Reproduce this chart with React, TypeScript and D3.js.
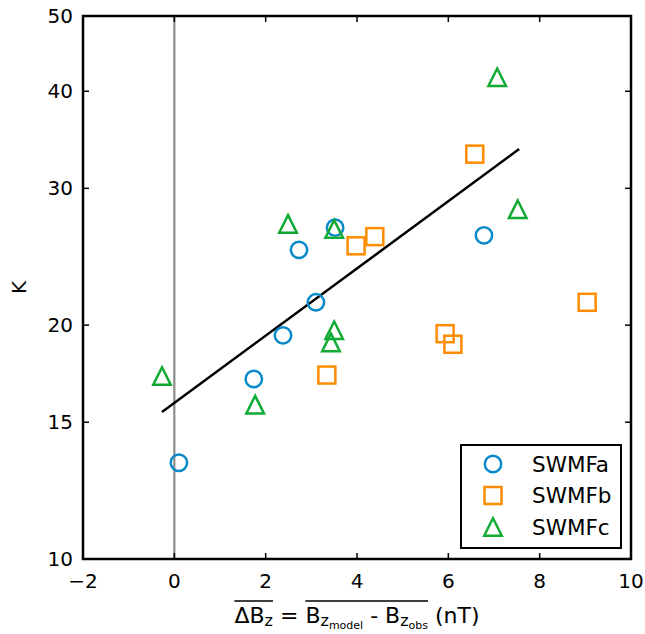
import React, { useLayoutEffect, useRef, useState } from "react";
import * as d3 from "d3";

const swmfaX = [0.1, 1.74, 2.38, 2.73, 3.1, 3.52, 6.78];
const swmfaY = [13.3, 17.05, 19.4, 25.0, 21.4, 26.7, 26.1];
const swmfbX = [3.34, 3.98, 4.39, 6.58, 5.93, 6.1, 9.04];
const swmfbY = [17.25, 25.3, 26.0, 33.2, 19.5, 18.9, 21.4];
const swmfcX = [-0.27, 1.77, 2.49, 3.5, 3.5, 3.43, 7.52, 7.07];
const swmfcY = [17.2, 15.8, 27.0, 26.6, 19.7, 19.0, 28.2, 41.7];
const fitX = [-0.27, 7.55];
const fitY = [15.46, 33.7];
const xTicks = [-2, 0, 2, 4, 6, 8, 10];
const yTicks = [10, 15, 20, 30, 40, 50];
const seriesNames = ["SWMFa", "SWMFb", "SWMFc"];
const colors = ["#0a8ac8", "#ff8c00", "#11aa33"];

const W = 645, H = 634;
const L = 83, R = 631, T = 16, B = 559;
const FONT = "DejaVu Sans, sans-serif";

function Marker({ kind, x, y, color }: { kind: number; x: number; y: number; color: string }) {
  const sw = 2.5;
  if (kind === 0) return <circle cx={x} cy={y} r={8.2} fill="none" stroke={color} strokeWidth={sw} />;
  if (kind === 1) return <rect x={x - 8.5} y={y - 8.5} width={17} height={17} fill="none" stroke={color} strokeWidth={sw} />;
  const s = 8.8;
  return <path d={`M${x},${y - s}L${x - s},${y + s}L${x + s},${y + s}Z`} fill="none" stroke={color} strokeWidth={sw} strokeLinejoin="miter" />;
}

export default function App() {
  const x = d3.scaleLinear().domain([-2, 10]).range([L, R]);
  const y = d3.scaleLog().domain([10, 50]).range([B, T]);
  const line = d3.line<number>().x((d, i) => x(fitX[i])).y((d, i) => y(fitY[i]));
  const labelRef = useRef<SVGTextElement>(null);
  const [ol, setOl] = useState<number[][]>([]);

  useLayoutEffect(() => {
    const t = labelRef.current;
    if (!t) return;
    try {
      const e0 = t.getExtentOfChar(0);
      const e2 = t.getExtentOfChar(2);
      const e6 = t.getExtentOfChar(6);
      const e20 = t.getExtentOfChar(20);
      setOl([
        [e0.x, e2.x + e2.width],
        [e6.x, e20.x + e20.width],
      ]);
    } catch (err) {}
  }, []);

  const series = [
    { xs: swmfaX, ys: swmfaY },
    { xs: swmfbX, ys: swmfbY },
    { xs: swmfcX, ys: swmfcY },
  ];

  const tickLen = 6;
  const overY = 601;

  return (
    <svg width={W} height={H} style={{ position: "absolute", left: 0, top: 0, background: "#fff" }} fontFamily={FONT}>
      <rect x={0} y={0} width={W} height={H} fill="#fff" />
      <line x1={x(0)} x2={x(0)} y1={B} y2={T} stroke="#8c8c8c" strokeWidth={2.2} />
      <path d={line([0, 1]) || ""} fill="none" stroke="#000" strokeWidth={2.5} />
      {series.map((s, si) =>
        s.xs.map((xv, i) => (
          <Marker key={`${si}-${i}`} kind={si} x={x(xv)} y={y(s.ys[i])} color={colors[si]} />
        ))
      )}
      {xTicks.slice(1, -1).map((t) => (
        <g key={`xt${t}`}>
          <line x1={x(t)} x2={x(t)} y1={B} y2={B - tickLen} stroke="#000" strokeWidth={1.5} />
          <line x1={x(t)} x2={x(t)} y1={T} y2={T + tickLen} stroke="#000" strokeWidth={1.5} />
        </g>
      ))}
      {yTicks.slice(1, -1).map((t) => (
        <g key={`yt${t}`}>
          <line x1={L} x2={L + tickLen} y1={y(t)} y2={y(t)} stroke="#000" strokeWidth={1.5} />
          <line x1={R} x2={R - tickLen} y1={y(t)} y2={y(t)} stroke="#000" strokeWidth={1.5} />
        </g>
      ))}
      <rect x={L} y={T} width={R - L} height={B - T} fill="none" stroke="#000" strokeWidth={2.5} />
      {xTicks.map((t) => (
        <text key={`xl${t}`} x={x(t)} y={B + 29} textAnchor="middle" fontSize={20}>
          {t < 0 ? `\u2212${Math.abs(t)}` : t}
        </text>
      ))}
      {yTicks.map((t) => (
        <text key={`yl${t}`} x={L - 10} y={y(t) + 7} textAnchor="end" fontSize={20}>
          {t}
        </text>
      ))}
      <text x={19} y={(T + B) / 2} transform={`rotate(-90, 19, ${(T + B) / 2})`} textAnchor="middle" fontSize={20} dy="0.35em">
        K
      </text>
      <text ref={labelRef} x={(L + R) / 2} y={623} textAnchor="middle" fontSize={22}>
        <tspan>ΔB</tspan>
        <tspan fontSize={16} dy={3}>z</tspan>
        <tspan dy={-3}> = B</tspan>
        <tspan fontSize={16} dy={3}>z</tspan>
        <tspan fontSize={11} dy={3}>model</tspan>
        <tspan dy={-6}> - B</tspan>
        <tspan fontSize={16} dy={3}>z</tspan>
        <tspan fontSize={11} dy={3}>obs</tspan>
        <tspan dy={-6}> (nT)</tspan>
      </text>
      {ol.map((o, i) => (
        <line key={`ol${i}`} x1={o[0]} x2={o[1]} y1={overY} y2={overY} stroke="#000" strokeWidth={1.5} />
      ))}
      <rect x={461} y={445} width={160} height={103} fill="#fff" stroke="#000" strokeWidth={2} />
      {seriesNames.map((n, i) => (
        <g key={n}>
          <Marker kind={i} x={493} y={464 + i * 31.5} color={colors[i]} />
          <text x={532} y={464 + i * 31.5} dy="0.35em" fontSize={21.5}>
            {n}
          </text>
        </g>
      ))}
    </svg>
  );
}
